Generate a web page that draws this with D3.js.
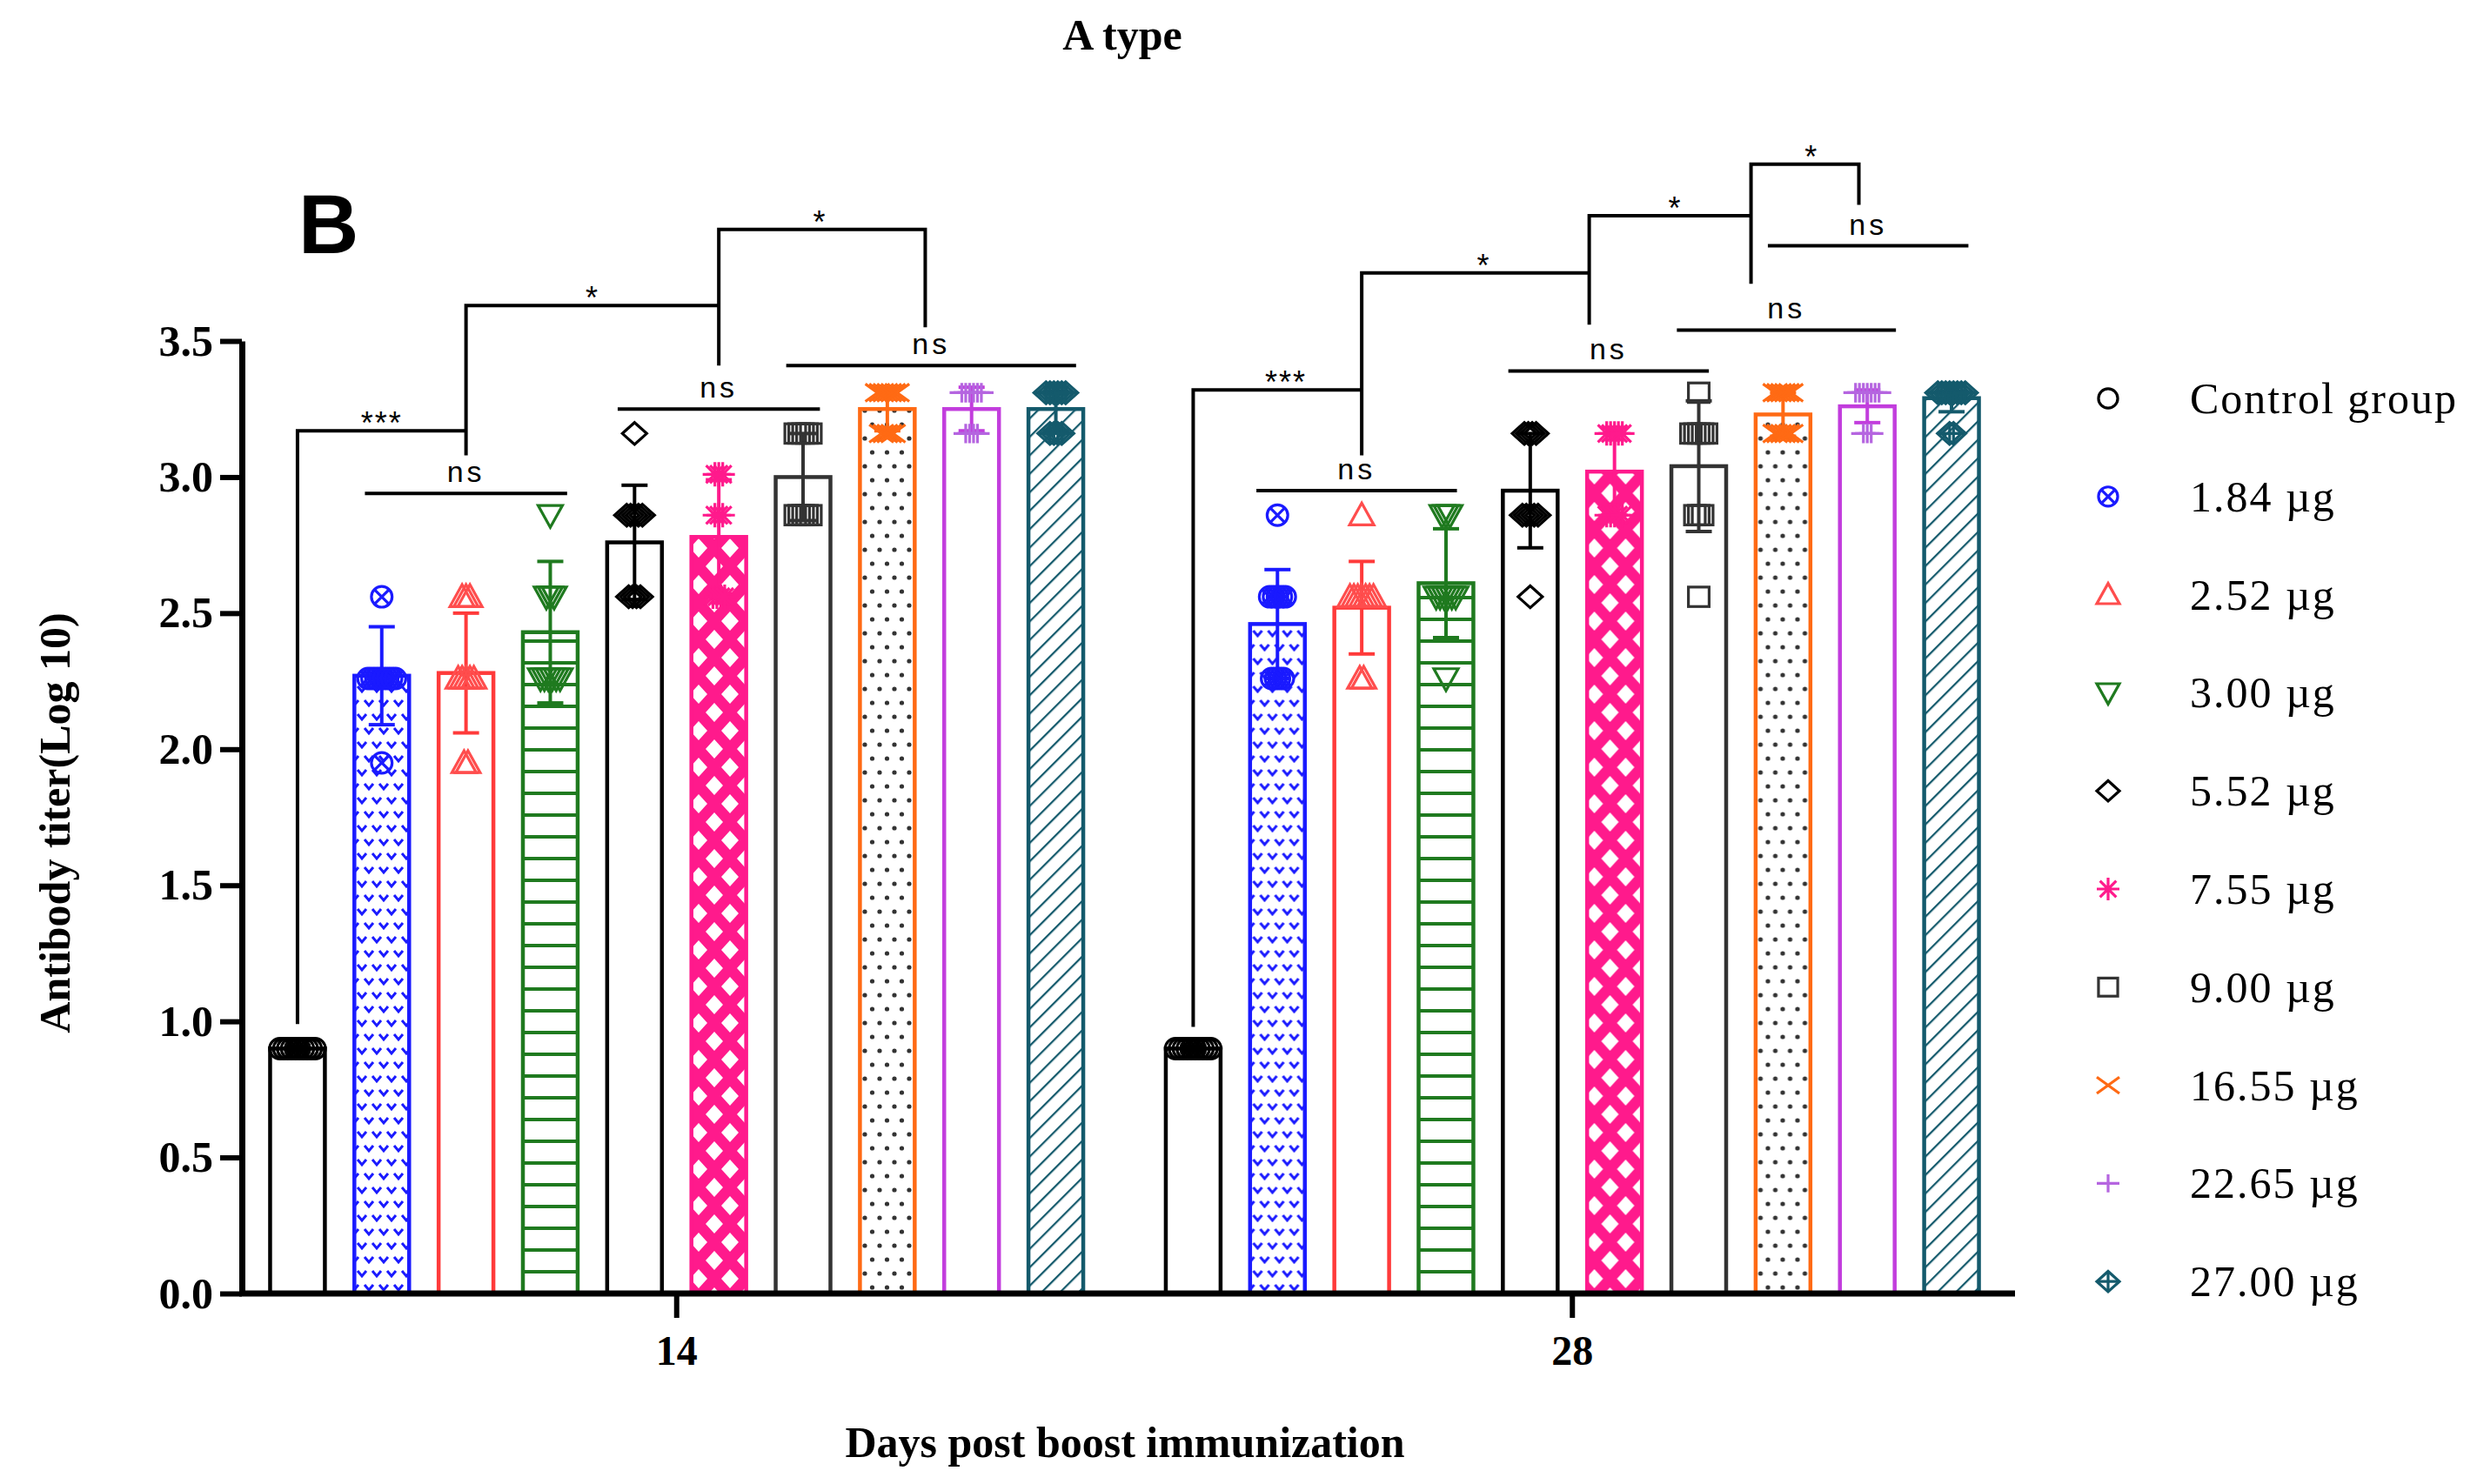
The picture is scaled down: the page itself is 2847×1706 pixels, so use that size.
<!DOCTYPE html>
<html>
<head>
<meta charset="utf-8">
<script src="https://cdn.jsdelivr.net/npm/d3@7"></script>
<style>
body { margin: 0; background: #fff; }
</style>
</head>
<body>
<div class="container"></div>
<script>
const w = 2847;
const h = 1706;

// ---- data ----
const days = ["14", "28"];
const groupNames = ["Control group", "1.84 µg", "2.52 µg", "3.00 µg", "5.52 µg",
                    "7.55 µg", "9.00 µg", "16.55 µg", "22.65 µg", "27.00 µg"];
const yTicks = [0, 0.5, 1.0, 1.5, 2.0, 2.5, 3.0, 3.5];

const mean14 = [0.90, 2.27, 2.28, 2.43, 2.76, 2.78, 3.00, 3.25, 3.25, 3.25];
const sd14   = [0.01, 0.18, 0.22, 0.26, 0.21, 0.21, 0.16, 0.08, 0.08, 0.08];
const mean28 = [0.90, 2.46, 2.52, 2.61, 2.95, 3.02, 3.04, 3.23, 3.26, 3.29];
const sd28   = [0.01, 0.20, 0.17, 0.20, 0.21, 0.16, 0.24, 0.08, 0.06, 0.05];

// individual animals: [value, count]
const pts14 = [
  [[0.90, 10]],
  [[2.56, 1], [2.26, 8], [1.95, 1]],
  [[2.56, 3], [2.26, 5], [1.95, 2]],
  [[2.86, 1], [2.56, 3], [2.26, 6]],
  [[3.16, 1], [2.86, 5], [2.56, 4]],
  [[3.01, 3], [2.86, 3], [2.56, 4]],
  [[3.16, 5], [2.86, 5]],
  [[3.31, 6], [3.16, 4]],
  [[3.31, 6], [3.16, 4]],
  [[3.31, 6], [3.16, 4]]
];
const pts28 = [
  [[0.90, 10]],
  [[2.86, 1], [2.56, 5], [2.26, 4]],
  [[2.86, 1], [2.56, 7], [2.26, 2]],
  [[2.86, 3], [2.56, 6], [2.26, 1]],
  [[3.16, 4], [2.86, 5], [2.56, 1]],
  [[3.16, 5], [2.86, 5]],
  [[3.31, 1], [3.16, 5], [2.86, 3], [2.56, 1]],
  [[3.31, 5], [3.16, 5]],
  [[3.31, 7], [3.16, 3]],
  [[3.31, 8], [3.16, 2]]
];

// significance brackets: day, [slot, value] corners
const brackets = [
  ["14", [[0, 0.99], [0, 3.17], [2, 3.17]]],
  ["14", [[2, 3.08], [2, 3.63], [5, 3.63]]],
  ["14", [[5, 3.41], [5, 3.91], [7.45, 3.91], [7.45, 3.55]]],
  ["28", [[0, 0.98], [0, 3.32], [2, 3.32]]],
  ["28", [[2, 3.08], [2, 3.75], [4.7, 3.75]]],
  ["28", [[4.7, 3.56], [4.7, 3.96], [6.62, 3.96]]],
  ["28", [[6.62, 3.71], [6.62, 4.15], [7.9, 4.15], [7.9, 4.0]]]
];
// "ns" lines: day, from slot, to slot, value
const nsLines = [
  ["14", 0.8, 3.2, 2.94], ["14", 3.8, 6.2, 3.25], ["14", 5.8, 9.24, 3.41],
  ["28", 0.75, 3.13, 2.95], ["28", 3.74, 6.12, 3.39], ["28", 5.74, 8.34, 3.54], ["28", 6.82, 9.2, 3.85]
];
const starLabels = [
  ["14", 1.0, 3.17, "***"], ["14", 3.5, 3.63, "*"], ["14", 6.2, 3.91, "*"],
  ["28", 1.1, 3.32, "***"], ["28", 3.45, 3.75, "*"], ["28", 5.72, 3.96, "*"], ["28", 7.34, 4.15, "*"]
];

// ---- styles ----
const colors = ["#000000", "#1a1aff", "#ff3a3a", "#1f7a1f", "#000000",
                "#ff1a8c", "#333333", "#ff6a14", "#c23ddd", "#145a6c"];
const markerColors = ["#000000", "#1a1aff", "#ff4d4d", "#1f7a1f", "#000000",
                      "#ff1a8c", "#333333", "#ff6a14", "#b565e0", "#145a6c"];
const markers = ["circle", "circleX", "triUp", "triDown", "diamond",
                 "asterisk", "square", "times", "plus", "diamondPlus"];
const fills = ["#fff", "url(#pBlue)", "#fff", "url(#pGreen)", "#fff",
               "url(#pPink)", "#fff", "url(#pDots)", "#fff", "url(#pHatch)"];

const serif = "'Liberation Serif', 'Times New Roman', serif";
const sans = "'Liberation Sans', Arial, sans-serif";

const svg = d3.select(".container")
          .append("svg")
          .attr("width", w)
          .attr("height", h)
          .style("background", "#fff");

// ---- patterns ----
const defs = svg.append("defs");

const pBlue = defs.append("pattern").attr("id", "pBlue")
    .attr("patternUnits", "userSpaceOnUse").attr("width", 34).attr("height", 32);
pBlue.append("rect").attr("width", 34).attr("height", 32).attr("fill", "#fff");
[[8, 8], [25, 8], [0, 24], [17, 24], [34, 24]].forEach(p => {
  pBlue.append("path")
      .attr("d", `M${p[0] - 5},${p[1] - 3}L${p[0]},${p[1] + 3}L${p[0] + 5},${p[1] - 3}`)
      .attr("fill", "none").attr("stroke", "#1a1aff").attr("stroke-width", 3);
});

const pGreen = defs.append("pattern").attr("id", "pGreen")
    .attr("patternUnits", "userSpaceOnUse").attr("width", 10).attr("height", 25);
pGreen.append("rect").attr("width", 10).attr("height", 25).attr("fill", "#fff");
pGreen.append("line").attr("x1", 0).attr("x2", 10).attr("y1", 12).attr("y2", 12)
    .attr("stroke", "#1f7a1f").attr("stroke-width", 4);

const pPink = defs.append("pattern").attr("id", "pPink")
    .attr("patternUnits", "userSpaceOnUse").attr("width", 36).attr("height", 42);
pPink.append("rect").attr("width", 36).attr("height", 42).attr("fill", "#ff1a8c");
[[0, 0], [36, 0], [0, 42], [36, 42], [18, 21]].forEach(p => {
  pPink.append("path")
      .attr("d", `M${p[0]},${p[1] - 11}L${p[0] + 10},${p[1]}L${p[0]},${p[1] + 11}L${p[0] - 10},${p[1]}Z`)
      .attr("fill", "#fff");
});

const pDots = defs.append("pattern").attr("id", "pDots")
    .attr("patternUnits", "userSpaceOnUse").attr("width", 17).attr("height", 32);
pDots.append("rect").attr("width", 17).attr("height", 32).attr("fill", "#fff");
[[8.5, 8], [0, 24], [17, 24]].forEach(p => {
  pDots.append("circle").attr("cx", p[0]).attr("cy", p[1]).attr("r", 2.6).attr("fill", "#333");
});

const pHatch = defs.append("pattern").attr("id", "pHatch")
    .attr("patternUnits", "userSpaceOnUse").attr("width", 15).attr("height", 15)
    .attr("patternTransform", "rotate(45)");
pHatch.append("rect").attr("width", 15).attr("height", 15).attr("fill", "#fff");
pHatch.append("line").attr("x1", 0).attr("x2", 0).attr("y1", 0).attr("y2", 15)
    .attr("stroke", "#145a6c").attr("stroke-width", 4.5);

// ---- scales ----
const xDay = d3.scaleBand()
               .domain(days)
               .range([263, 2322]);

const xBar = d3.scaleBand()
               .domain(d3.range(groupNames.length))
               .range([0, xDay.bandwidth()])
               .paddingInner(0.35)
               .paddingOuter(0.49);

const yScale = d3.scaleLinear()
                 .domain([0, 3.5])
                 .range([1487, 392]);

const slotX = (day, s) => xDay(day) + xBar(0) + s * xBar.step() + xBar.bandwidth() / 2;

// ---- marker drawing ----
function drawMarker(g, type, x, y, r, color) {
  const m = g.append("g").attr("transform", `translate(${x},${y})`)
      .attr("fill", "none").attr("stroke", color).attr("stroke-width", 3.2);
  const k = r * 0.72;
  if (type === "circle" || type === "circleX") {
    m.append("circle").attr("r", r * 0.85);
    if (type === "circleX") {
      m.append("path").attr("d", `M${-k * 0.8},${-k * 0.8}L${k * 0.8},${k * 0.8}M${k * 0.8},${-k * 0.8}L${-k * 0.8},${k * 0.8}`);
    }
  } else if (type === "triUp") {
    m.append("path").attr("d", `M0,${-r}L${r},${r * 0.8}L${-r},${r * 0.8}Z`);
  } else if (type === "triDown") {
    m.append("path").attr("d", `M0,${r}L${r},${-r * 0.8}L${-r},${-r * 0.8}Z`);
  } else if (type === "diamond" || type === "diamondPlus") {
    m.append("path").attr("d", `M0,${-r * 0.9}L${r},0L0,${r * 0.9}L${-r},0Z`);
    if (type === "diamondPlus") {
      m.append("path").attr("d", `M${-r},0L${r},0M0,${-r * 0.9}L0,${r * 0.9}`);
    }
  } else if (type === "asterisk") {
    m.append("path").attr("d",
      `M${-r},0L${r},0M0,${-r}L0,${r}M${-k},${-k}L${k},${k}M${k},${-k}L${-k},${k}`);
  } else if (type === "square") {
    m.append("rect").attr("x", -r * 0.85).attr("y", -r * 0.8)
        .attr("width", r * 1.7).attr("height", r * 1.6);
  } else if (type === "times") {
    m.append("path").attr("d", `M${-r},${-k}L${r},${k}M${r},${-k}L${-r},${k}`);
  } else if (type === "plus") {
    m.append("path").attr("d", `M${-r},0L${r},0M0,${-r * 0.8}L0,${r * 0.8}`);
  }
}

// ---- bars, error bars, points ----
const series = [
  { day: "14", mean: mean14, sd: sd14, pts: pts14 },
  { day: "28", mean: mean28, sd: sd28, pts: pts28 }
];

const plot = svg.append("g");

series.forEach(s => {
  const g = plot.append("g").attr("transform", `translate(${xDay(s.day)},0)`);

  g.selectAll("rect.bar")
   .data(s.mean)
   .enter()
   .append("rect")
   .attr("class", "bar")
   .attr("x", (d, i) => xBar(i))
   .attr("y", d => yScale(d))
   .attr("width", xBar.bandwidth())
   .attr("height", d => yScale(0) - yScale(d))
   .attr("fill", (d, i) => fills[i])
   .attr("stroke", (d, i) => colors[i])
   .attr("stroke-width", 4.5);

  s.mean.forEach((m, i) => {
    const cx = xBar(i) + xBar.bandwidth() / 2;
    const col = colors[i];
    const lo = yScale(m - s.sd[i]);
    const hi = yScale(m + s.sd[i]);
    const eb = g.append("g").attr("stroke", col).attr("stroke-width", 4);
    eb.append("line").attr("x1", cx).attr("x2", cx).attr("y1", lo).attr("y2", hi);
    eb.append("line").attr("x1", cx - 15).attr("x2", cx + 15).attr("y1", hi).attr("y2", hi);
    eb.append("line").attr("x1", cx - 15).attr("x2", cx + 15).attr("y1", lo).attr("y2", lo);

    // points sharing a value are spread sideways
    s.pts[i].forEach(([v, n]) => {
      d3.range(n).forEach(k => {
        const off = (k - (n - 1) / 2) * 4.5;
        drawMarker(g, markers[i], cx + off, yScale(v), 14, markerColors[i]);
      });
    });
  });
});

// ---- axes ----
const yAxis = d3.axisLeft(yScale)
                .tickValues(yTicks)
                .tickFormat(d3.format(".1f"))
                .tickSize(25)
                .tickSizeOuter(0)
                .tickPadding(8);
const gy = svg.append("g")
   .attr("id", "y-axis")
   .attr("transform", "translate(278,0)")
   .call(yAxis);
gy.select(".domain").attr("stroke-width", 7);
gy.selectAll(".tick line").attr("stroke-width", 6);
gy.selectAll(".tick text")
  .style("font-family", serif).style("font-weight", "bold").style("font-size", "50px")
  .attr("fill", "#000");

const xAxis = d3.axisBottom(xDay)
                .tickSize(28)
                .tickSizeOuter(0)
                .tickPadding(20);
const gx = svg.append("g")
   .attr("id", "x-axis")
   .attr("transform", `translate(0,${yScale(0)})`)
   .call(xAxis);
gx.select(".domain").remove();
gx.append("line")
  .attr("x1", 275).attr("x2", xDay.range()[1] - 6)
  .attr("y1", 0).attr("y2", 0)
  .attr("stroke", "#000").attr("stroke-width", 7);
gx.selectAll(".tick line").attr("stroke-width", 6);
gx.selectAll(".tick text")
  .style("font-family", serif).style("font-weight", "bold").style("font-size", "48px")
  .attr("fill", "#000");

// ---- significance annotations ----
const ann = svg.append("g").attr("fill", "none").attr("stroke", "#000").attr("stroke-width", 4);
brackets.forEach(b => {
  const line = d3.line().x(p => slotX(b[0], p[0])).y(p => yScale(p[1]));
  ann.append("path").attr("d", line(b[1]));
});
nsLines.forEach(n => {
  ann.append("line")
     .attr("x1", slotX(n[0], n[1])).attr("x2", slotX(n[0], n[2]))
     .attr("y1", yScale(n[3])).attr("y2", yScale(n[3]));
  svg.append("text")
     .attr("x", (slotX(n[0], n[1]) + slotX(n[0], n[2])) / 2)
     .attr("y", yScale(n[3]) - 13)
     .attr("text-anchor", "middle")
     .style("font-family", sans).style("font-size", "34px").style("letter-spacing", "4px")
     .text("ns");
});
starLabels.forEach(s => {
  svg.append("text")
     .attr("x", slotX(s[0], s[1]))
     .attr("y", yScale(s[2]) + 4)
     .attr("text-anchor", "middle")
     .style("font-family", sans).style("font-size", "36px").style("letter-spacing", "2px")
     .text(s[3]);
});

// ---- titles ----
svg.append("text")
   .attr("x", 1290).attr("y", 57)
   .attr("text-anchor", "middle")
   .style("font-family", serif).style("font-weight", "bold").style("font-size", "50px")
   .text("A type");

svg.append("text")
   .attr("x", 343).attr("y", 291)
   .style("font-family", sans).style("font-weight", "bold").style("font-size", "96px")
   .text("B");

svg.append("text")
   .attr("transform", "translate(80,946) rotate(-90)")
   .attr("text-anchor", "middle")
   .style("font-family", serif).style("font-weight", "bold").style("font-size", "50px")
   .text("Antibody titer(Log 10)");

svg.append("text")
   .attr("x", 1293).attr("y", 1675)
   .attr("text-anchor", "middle")
   .style("font-family", serif).style("font-weight", "bold").style("font-size", "50px")
   .text("Days post boost immunization");

// ---- legend ----
const legend = svg.append("g").attr("transform", "translate(2423,458)");
groupNames.forEach((name, i) => {
  const ly = i * 112.8;
  drawMarker(legend, markers[i], 0, ly, 13, markerColors[i]);
  legend.append("text")
        .attr("x", 94).attr("y", ly + 17)
        .style("font-family", serif).style("font-size", "50px").style("letter-spacing", "2px")
        .text(name);
});
</script>
</body>
</html>
